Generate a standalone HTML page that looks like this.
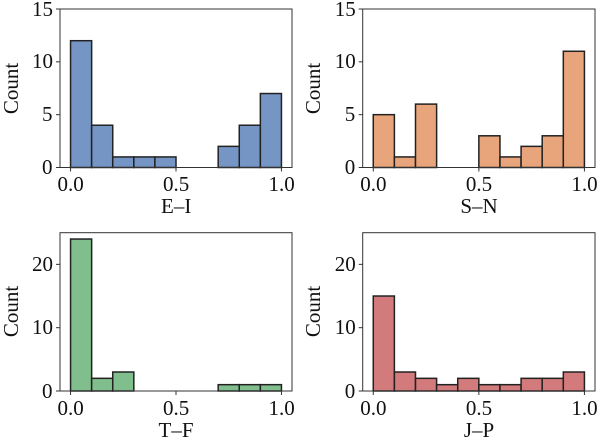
<!DOCTYPE html>
<html><head><meta charset="utf-8">
<style>
html,body{margin:0;padding:0;background:#fff;}
#wrap{position:relative;width:600px;height:444px;overflow:hidden;}
svg{display:block;position:absolute;left:0;top:0;}
.lbl{position:absolute;font-family:"Liberation Serif","Times New Roman",serif;font-size:21px;line-height:21px;color:#111;white-space:nowrap;}
</style></head>
<body>
<div id="wrap">
<svg id="chart" width="600" height="444" viewBox="0 0 600 444" xmlns="http://www.w3.org/2000/svg"></svg>
</div>
<script>
const binEdges = [0,0.1,0.2,0.3,0.4,0.5,0.6,0.7,0.8,0.9,1.0];
const countsEI = [12,4,1,1,1,0,0,2,4,7];
const countsSN = [5,1,6,0,0,3,1,2,3,11];
const countsTF = [24,2,3,0,0,0,0,1,1,1];
const countsJP = [15,3,2,1,2,1,1,2,2,3];
const xTicks = [0,0.5,1.0];
const xTickLabels = ["0.0","0.5","1.0"];
const yTicksTop = [0,5,10,15];
const yTicksBottom = [0,10,20];
const labels = ["E–I","S–N","T–F","J–P"];

const NS = "http://www.w3.org/2000/svg";
const svg = document.getElementById('chart');
const wrap = document.getElementById('wrap');
function mk(tag, attrs, parent){
  const e = document.createElementNS(NS, tag);
  for (const k in attrs) e.setAttribute(k, attrs[k]);
  (parent||svg).appendChild(e);
  return e;
}
// anchor: 'c' center, 'r' right; cx/cy = center point
function label(text, cx, cy, anchor, rotate){
  const d = document.createElement('div');
  d.className = 'lbl';
  d.textContent = text;
  wrap.appendChild(d);
  const w = d.offsetWidth, h = d.offsetHeight;
  let left = anchor === 'r' ? cx - w : cx - w/2;
  d.style.left = left + 'px';
  d.style.top = (cy - h/2) + 'px';
  if (rotate) d.style.transform = 'rotate(-90deg)';
  return d;
}
const panels = [
  {name:'ei', counts:countsEI, yTicks:yTicksTop, ymax:15, fill:'#7595c5', L:60, R:292, T:9, B:167.5, label:labels[0]},
  {name:'sn', counts:countsSN, yTicks:yTicksTop, ymax:15, fill:'#e8a57b', L:362.7, R:595, T:9, B:167.5, label:labels[1]},
  {name:'tf', counts:countsTF, yTicks:yTicksBottom, ymax:25, fill:'#80bf8d', L:60, R:292, T:232.7, B:391, label:labels[2]},
  {name:'jp', counts:countsJP, yTicks:yTicksBottom, ymax:25, fill:'#d37a7d', L:362.7, R:595, T:232.7, B:391, label:labels[3]}
];
panels.forEach(p=>{
  const g = mk('g',{});
  
  
  const pad = (p.R - p.L) * 0.0455;
  const x0 = p.L + pad, x1 = p.R - pad;
  const xs = v => x0 + (x1 - x0) * v;
  const ys = v => p.B - (p.B - p.T) * v / p.ymax;
  p.counts.forEach((c,i)=>{
    if (c <= 0) return;
    const r = mk('rect',{x:xs(binEdges[i]), y:ys(c), width:xs(binEdges[i+1])-xs(binEdges[i]), height:p.B-ys(c), fill:p.fill, stroke:'#222', 'stroke-width':1.5}, g);
    
    
  });
  const frame = mk('rect',{x:p.L, y:p.T, width:p.R-p.L, height:p.B-p.T, fill:'none', stroke:'#333', 'stroke-width':1}, g);
  
  
  xTicks.forEach((t,i)=>{
    mk('line',{x1:xs(t), x2:xs(t), y1:p.B, y2:p.B+4, stroke:'#333', 'stroke-width':1}, g);
    const tx = label(xTickLabels[i], xs(t), p.B+17, 'c');
    
    
  });
  p.yTicks.forEach(t=>{
    mk('line',{x1:p.L-4, x2:p.L, y1:ys(t), y2:ys(t), stroke:'#333', 'stroke-width':1}, g);
    const ty = label(String(t), p.L-7, ys(t), 'r');
    
    
  });
  const xl = label(p.label, (p.L+p.R)/2, p.B+39, 'c');
  
  
  const yl = label('Count', p.L-49, (p.T+p.B)/2, 'c', true);
  
  
});
</script>
</body></html>
